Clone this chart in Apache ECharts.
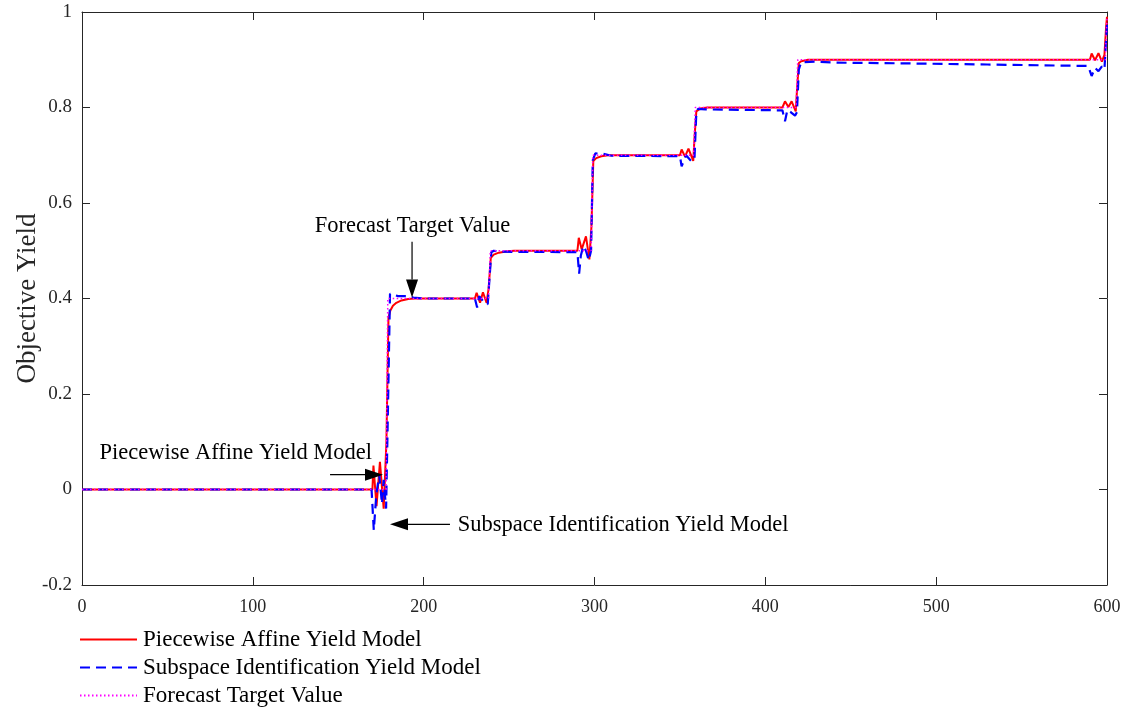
<!DOCTYPE html>
<html>
<head>
<meta charset="utf-8">
<script src="https://cdn.jsdelivr.net/npm/echarts@6/dist/echarts.min.js"></script>
<style>html,body{margin:0;padding:0;background:#fff}#c{width:1128px;height:711px}</style>
</head>
<body>
<div id="c"></div>
<script>
// ---- data ----
var seriesNames = ['Piecewise Affine Yield Model', 'Subspace Identification Yield Model', 'Forecast Target Value'];

var targetX = [0, 178, 179, 238, 239, 298, 299, 358, 359, 418, 419, 599, 600];
var targetY = [0, 0, 0.4, 0.4, 0.5, 0.5, 0.7, 0.7, 0.8, 0.8, 0.9, 0.9, 0.99];

var pwaX = [0, 170, 170.6, 172.4, 174.4, 176.6, 178.2, 179.4, 180.5, 182, 184, 187, 191, 195,
  230, 231, 233, 234.7, 236.8, 238, 239.3, 241, 244, 249, 253,
  290, 290.8, 292.5, 295, 297, 298.2, 299.3, 301, 304, 308,
  350, 351, 353, 355, 357.8, 358.6, 359.6, 362, 366,
  410, 411.5, 413.5, 415.4, 417.8, 418.6, 419.6, 421, 425,
  590, 591, 593, 595, 597, 598.5, 599.5, 600];
var pwaY = [0, 0, 0.05, -0.035, 0.058, -0.04, 0.1, 0.36, 0.375, 0.385, 0.391, 0.396, 0.399, 0.4,
  0.4, 0.412, 0.391, 0.413, 0.391, 0.42, 0.485, 0.492, 0.496, 0.499, 0.5,
  0.5, 0.527, 0.503, 0.53, 0.482, 0.55, 0.688, 0.694, 0.698, 0.7,
  0.7, 0.712, 0.697, 0.714, 0.688, 0.74, 0.792, 0.798, 0.8,
  0.8, 0.813, 0.801, 0.813, 0.792, 0.84, 0.893, 0.897, 0.9,
  0.9, 0.913, 0.899, 0.914, 0.896, 0.91, 0.97, 0.99];

var subX = [0, 169.5, 170.8, 172.3, 174, 175.6, 176.6, 178, 179, 180.3, 182, 185, 190, 194, 200,
  230, 231.3, 232.5, 234, 236, 237.5, 238.5, 239.6, 241, 245, 290,
  291, 292, 293.5, 295, 296.6, 298, 299, 300.5, 305, 310, 350,
  351, 353.6, 356.5, 358.5, 359.5, 360.5, 365, 410,
  411.5, 412.9, 415, 417.4, 418.5, 419.6, 421, 430, 440, 470, 530, 589,
  591, 593, 595, 597, 598.5, 599.6, 600];
var subY = [0, 0, -0.085, -0.01, 0.03, -0.03, 0.02, -0.04, 0.15, 0.41, 0.408, 0.405, 0.405, 0.402, 0.4,
  0.4, 0.381, 0.405, 0.398, 0.39, 0.388, 0.44, 0.497, 0.5, 0.498, 0.497,
  0.452, 0.49, 0.51, 0.5, 0.48, 0.5, 0.69, 0.704, 0.703, 0.699, 0.698,
  0.677, 0.7, 0.688, 0.69, 0.78, 0.797, 0.796, 0.794,
  0.771, 0.795, 0.79, 0.783, 0.79, 0.88, 0.895, 0.896, 0.894, 0.893, 0.89, 0.887,
  0.866, 0.883, 0.876, 0.886, 0.88, 0.95, 0.975];

var xTicks = {min: 0, max: 600, interval: 100};
var yTicks = {min: -0.2, max: 1, interval: 0.2};

// annotations (data coordinates)
var annotTexts = ['Forecast Target Value', 'Piecewise Affine Yield Model', 'Subspace Identification Yield Model'];
var annotTextPos = [[193.5, 0.551], [90, 0.077], [220, -0.075]];
var annotTextAlign = ['center', 'center', 'left'];
var annotArrows = [[[193.2, 0.519], [193.2, 0.402]], [[145.2, 0.031], [176.2, 0.031]], [[215.4, -0.073], [180.3, -0.073]]];

function zip(xs, ys) { return xs.map(function (x, i) { return [x, ys[i]]; }); }

var FONT = '"Liberation Serif", "Times New Roman", serif';
var AX = '#262626';

var chart = echarts.init(document.getElementById('c'), null, {renderer: 'canvas'});
var axisCommon = {
  axisLine: {show: true, onZero: false, lineStyle: {color: AX, width: 1}},
  axisTick: {show: true, inside: true, length: 8, lineStyle: {color: AX}},
  splitLine: {show: false}
};
chart.setOption({
  animation: false,
  backgroundColor: '#fff',
  grid: {left: 82, right: 21, top: 12, bottom: 126, containLabel: false, outerBoundsMode: 'none', show: false},
  xAxis: [
    Object.assign({type: 'value', position: 'bottom', min: xTicks.min, max: xTicks.max, interval: xTicks.interval,
      axisLabel: {show: true, color: AX, fontFamily: FONT, fontSize: 18, margin: 13}}, axisCommon),
    Object.assign({type: 'value', position: 'top', min: xTicks.min, max: xTicks.max, interval: xTicks.interval,
      axisLabel: {show: false}}, axisCommon)
  ],
  yAxis: [
    Object.assign({type: 'value', position: 'left', min: yTicks.min, max: yTicks.max, interval: yTicks.interval,
      name: 'Objective Yield', nameLocation: 'middle', nameGap: 41, nameMoveOverlap: false,
      nameTextStyle: {color: AX, fontFamily: FONT, fontSize: 27},
      axisLabel: {show: true, color: AX, fontFamily: FONT, fontSize: 19, margin: 10}}, axisCommon),
    Object.assign({type: 'value', position: 'right', min: yTicks.min, max: yTicks.max, interval: yTicks.interval,
      axisLabel: {show: false}}, axisCommon)
  ],
  legend: {
    show: true, orient: 'vertical', left: 79, top: 628, itemWidth: 57, itemHeight: 14, itemGap: 5, padding: 0,
    selectedMode: false,
    itemStyle: {opacity: 0},
    textStyle: {color: '#000', fontFamily: FONT, fontSize: 23, padding: [0, 0, 0, 1]},
    data: seriesNames
  },
  series: [
    {name: seriesNames[0], type: 'line', data: zip(pwaX, pwaY), symbol: 'none', silent: true, z: 2,
      lineStyle: {color: '#ff0000', width: 2, type: 'solid'}, itemStyle: {color: '#ff0000'}},
    {name: seriesNames[1], type: 'line', data: zip(subX, subY), symbol: 'none', silent: true, z: 3,
      lineStyle: {color: '#0000ff', width: 2.2, type: [10, 6]}, itemStyle: {color: '#0000ff'}},
    {name: seriesNames[2], type: 'line', data: zip(targetX, targetY), symbol: 'none', silent: true, z: 4,
      lineStyle: {color: '#ff00ff', width: 1.5, type: [1.5, 2.5]}, itemStyle: {color: '#ff00ff'}}
  ]
});

// annotations placed via the chart's own coordinate conversion
var g = [];
function px(p) { return chart.convertToPixel({xAxisIndex: 0, yAxisIndex: 0}, p); }
annotTexts.forEach(function (t, i) {
  var p = px(annotTextPos[i]);
  g.push({type: 'text', x: p[0], y: p[1], silent: true, z: 10,
    style: {text: t, fill: '#000', font: '22.5px ' + FONT, textAlign: annotTextAlign[i], textVerticalAlign: 'middle'}});
  var a = px(annotArrows[i][0]), b = px(annotArrows[i][1]);
  var dx = b[0] - a[0], dy = b[1] - a[1], L = Math.sqrt(dx * dx + dy * dy);
  var ux = dx / L, uy = dy / L, hl = 18, hw = 6;
  var bx = b[0] - ux * hl, by = b[1] - uy * hl;
  g.push({type: 'line', silent: true, z: 10, shape: {x1: a[0], y1: a[1], x2: bx, y2: by}, style: {stroke: '#000', lineWidth: 1.2}});
  g.push({type: 'polygon', silent: true, z: 10,
    shape: {points: [[b[0], b[1]], [bx - uy * hw, by + ux * hw], [bx + uy * hw, by - ux * hw]]},
    style: {fill: '#000'}});
});
chart.setOption({graphic: g});
</script>
</body>
</html>
